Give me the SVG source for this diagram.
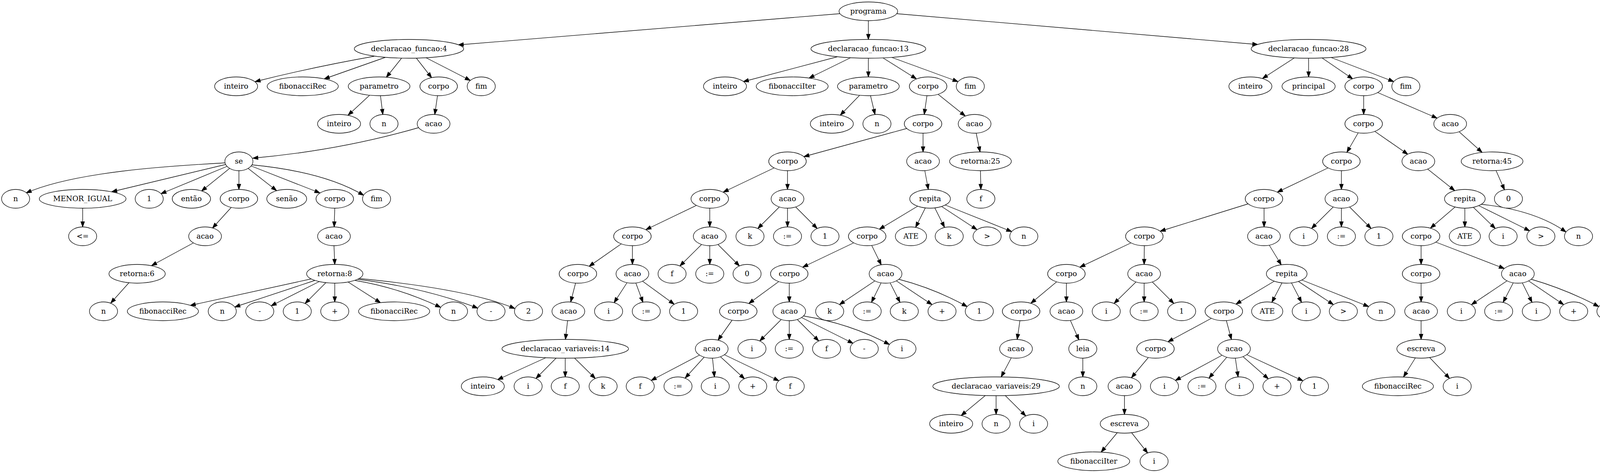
<svg xmlns="http://www.w3.org/2000/svg" width="4167" height="1211" viewBox="0 0 4167 1211">
<defs>
<style>
.nodes ellipse{fill:#fff;stroke:#000;stroke-width:1.33}
.nodes text{font-family:"DejaVu Serif","Liberation Serif",serif;font-size:18.67px;text-anchor:middle;fill:#000}
#edges path{fill:none;stroke:#000;stroke-width:1.33;marker-end:url(#ah)}
</style>
<marker id="ah" markerUnits="userSpaceOnUse" viewBox="-1 -1 16 12" markerWidth="16" markerHeight="12" refX="13.3" refY="4.67" orient="auto">
<path d="M0,0 L13.3,4.67 L0,9.33 z" fill="#000" stroke="#000" stroke-width="1.33"/>
</marker>
</defs>
<rect width="4167" height="1211" fill="#fff"/>
<g id="edges">
<path d="M2150,35 L1173,115"/>
<path d="M2223,53 L2223,101"/>
<path d="M2295,35 L3220,114"/>
<path d="M958,144 Q800,172 653,209"/>
<path d="M986,147 L830,202"/>
<path d="M1028,149 L989,198"/>
<path d="M1066,149 L1105,199"/>
<path d="M1091,148 L1204,206"/>
<path d="M946,244 L891,295"/>
<path d="M974,245 L980,293"/>
<path d="M1120,245 L1113,293"/>
<path d="M1071,327 Q870,385 647,405"/>
<path d="M576,417 C430,425 190,440 67,494"/>
<path d="M578,421 L286,491"/>
<path d="M581,426 L412,496"/>
<path d="M588,431 L516,489"/>
<path d="M611.6,437 L611.6,485"/>
<path d="M635,431 L708,488"/>
<path d="M643,425 L819,494"/>
<path d="M645,422 Q830,440 931,500"/>
<path d="M211.6,533 L211.6,581"/>
<path d="M592,531 L544,584"/>
<path d="M857,533 L855.5,581"/>
<path d="M495,622 L388,680"/>
<path d="M855,629 L857,677"/>
<path d="M330,724 L283.5,776"/>
<path d="M797,714 L487,782"/>
<path d="M806,718 L601,786"/>
<path d="M817,721 L694,783"/>
<path d="M834,724 L781,777"/>
<path d="M857,725 L857,773"/>
<path d="M891,722 L974,775"/>
<path d="M909,718 Q1023,737 1128,787"/>
<path d="M915,715 Q1090,737 1223,789"/>
<path d="M919,713 Q1200,740 1318,790"/>
<path d="M2145,145 L1903,209"/>
<path d="M2177,148 L2071,200"/>
<path d="M2223,149 L2223,197"/>
<path d="M2260,148 L2346,202"/>
<path d="M2283,147 L2452.5,209"/>
<path d="M2200.6,244 L2151,295"/>
<path d="M2228.5,245 L2240,293"/>
<path d="M2373,245 L2366,293"/>
<path d="M2401,241 L2471,297"/>
<path d="M2321,329 L2058,401"/>
<path d="M2363,341 L2363,389"/>
<path d="M2499,341 L2509,389"/>
<path d="M1981.5,430 L1851.5,492"/>
<path d="M2016,437 L2016,485"/>
<path d="M2367.5,437 L2376.5,485"/>
<path d="M2510,437 L2511,485"/>
<path d="M1782.5,526 L1653.5,588"/>
<path d="M1817,533 L1817,581"/>
<path d="M1995,530 L1940,585"/>
<path d="M2016,533 L2016,581"/>
<path d="M2037,530 L2092,585"/>
<path d="M2349,528 L2251,587"/>
<path d="M2369,532 L2344,582"/>
<path d="M2393,532 L2418,582"/>
<path d="M2411,529 L2501,588"/>
<path d="M2420,525 L2590,593"/>
<path d="M1591,624 L1508,682"/>
<path d="M1619,629 L1619,677"/>
<path d="M1796,626 L1740.5,681"/>
<path d="M1817,629 L1817,677"/>
<path d="M1838,626 L1893,681"/>
<path d="M2185,622 L2055,684"/>
<path d="M2231.4,628 L2256,678"/>
<path d="M1473.4,725 L1461,773"/>
<path d="M1605,724 L1572,775"/>
<path d="M1627.7,724.5 L1646,774"/>
<path d="M1645,720 L1726,779"/>
<path d="M1993.5,721 L1917,777"/>
<path d="M2020.5,725 L2020.5,773"/>
<path d="M2240,719 L2149,780"/>
<path d="M2255.7,724 L2231,774"/>
<path d="M2278.6,724 L2304,774"/>
<path d="M2294.5,719 L2386,780"/>
<path d="M2301,715 Q2393,739 2476,785"/>
<path d="M1453,821 L1447.5,869"/>
<path d="M1874,820 L1838,871"/>
<path d="M2000,818 L1945,873"/>
<path d="M2020.5,821 L2020.5,869"/>
<path d="M2041,818 L2096,873"/>
<path d="M2052,813 L2184,879"/>
<path d="M2057,809 Q2175,828 2277,882"/>
<path d="M1397,916 L1274,972"/>
<path d="M1423.5,917 L1372,969"/>
<path d="M1447,917 L1447,965"/>
<path d="M1471,917 L1524,969"/>
<path d="M1791,909 L1667,974"/>
<path d="M1803,914 L1754,968"/>
<path d="M1824,917 L1829,965"/>
<path d="M1844,913 L1906,970"/>
<path d="M1854,908 L1994,975"/>
<path d="M3314,148 L3232,201"/>
<path d="M3350,149 L3350,197"/>
<path d="M3384,148 L3463,202"/>
<path d="M3407,147 L3568,209"/>
<path d="M3491,245 L3491,293"/>
<path d="M3527,237 L3679,302.5"/>
<path d="M3477,340 L3448,390"/>
<path d="M3519,336 L3604,395"/>
<path d="M3735,337 L3794,390"/>
<path d="M3399.5,430 L3270,492"/>
<path d="M3434,437 L3434,485"/>
<path d="M3655,433 L3724,488"/>
<path d="M3830,437 L3851.5,486"/>
<path d="M3195,522 L2970,592"/>
<path d="M3236,533 L3236,581"/>
<path d="M3413,530 L3357.5,585"/>
<path d="M3434,533 L3434,581"/>
<path d="M3455,530 L3510,585"/>
<path d="M3725,530 L3662,584"/>
<path d="M3750,533 L3750,581"/>
<path d="M3772,531 L3828,585"/>
<path d="M3785.5,526.5 L3916,591"/>
<path d="M3792,523 Q3930,538 4009,594"/>
<path d="M2895,622 L2764.5,684"/>
<path d="M2929.5,629 L2929,677"/>
<path d="M3249.5,628 L3280,678"/>
<path d="M3638,629 L3638,677"/>
<path d="M3676,620 L3851,687.5"/>
<path d="M2705,721.5 L2639,776.5"/>
<path d="M2730,725 L2730,773"/>
<path d="M2908,722 L2852,777"/>
<path d="M2929,725 L2929,773"/>
<path d="M2950,722 L3005,777"/>
<path d="M3262,720 L3164,778.6"/>
<path d="M3282,724 L3256,774"/>
<path d="M3306,724 L3332,774"/>
<path d="M3324,720.6 L3413.5,780"/>
<path d="M3333,717 L3504,785"/>
<path d="M3638,725 L3638,773"/>
<path d="M3858,719 L3767,780"/>
<path d="M3874,724 L3848,774"/>
<path d="M3897,724 L3922,774"/>
<path d="M3913,719 L4003,780"/>
<path d="M3920,715 Q4010,741 4093,785"/>
<path d="M2611,821 L2604,869"/>
<path d="M2740,820 L2762,870"/>
<path d="M3101,815 L2990,875"/>
<path d="M3139.5,821 L3152.5,869"/>
<path d="M3638,821 L3638,869"/>
<path d="M2589,916 L2563,965"/>
<path d="M2772,917 L2772,965"/>
<path d="M2940,915 L2896.5,967"/>
<path d="M3128.5,909.5 L3009,974"/>
<path d="M3140.6,914.6 L3095,968"/>
<path d="M3162.5,917 L3169.5,965"/>
<path d="M3182,913 L3247,970"/>
<path d="M3191.5,908 L3335.5,975"/>
<path d="M3623.6,916 L3593,965"/>
<path d="M3660,915.5 L3711,969"/>
<path d="M2522,1013 L2460.5,1064"/>
<path d="M2550,1013 L2550,1061"/>
<path d="M2573.7,1013 L2626,1065"/>
<path d="M2878.6,1013 L2878.6,1061"/>
<path d="M2860,1108 L2819,1157.5"/>
<path d="M2897,1108 L2938,1160"/>
</g>
<g class="nodes">
<g id="n0"><ellipse cx="2223" cy="29" rx="75" ry="24"/><text x="2223" y="35">programa</text></g>
<g id="n1"><ellipse cx="1047" cy="125" rx="140" ry="24"/><text x="1047" y="131">declaracao_funcao:4</text></g>
<g id="n2"><ellipse cx="2223" cy="125" rx="147" ry="24"/><text x="2223" y="131">declaracao_funcao:13</text></g>
<g id="n3"><ellipse cx="3350" cy="125" rx="147" ry="24"/><text x="3350" y="131">declaracao_funcao:28</text></g>

<g id="a1"><ellipse cx="604.5" cy="221" rx="55" ry="24"/><text x="604.5" y="227">inteiro</text></g>
<g id="a2"><ellipse cx="775" cy="221" rx="91" ry="24"/><text x="775" y="227">fibonacciRec</text></g>
<g id="a3"><ellipse cx="970.5" cy="221" rx="79" ry="24"/><text x="970.5" y="227">parametro</text></g>
<g id="a4"><ellipse cx="1123" cy="221" rx="48" ry="24"/><text x="1123" y="227">corpo</text></g>
<g id="a5"><ellipse cx="1232" cy="221" rx="36" ry="24"/><text x="1232" y="227">fim</text></g>
<g id="a6"><ellipse cx="868" cy="317" rx="55" ry="24"/><text x="868" y="323">inteiro</text></g>
<g id="a7"><ellipse cx="983" cy="317" rx="36" ry="24"/><text x="983" y="323">n</text></g>
<g id="a8"><ellipse cx="1110" cy="317" rx="42" ry="24"/><text x="1110" y="323">acao</text></g>
<g id="a9"><ellipse cx="611.6" cy="413" rx="36" ry="24"/><text x="611.6" y="419">se</text></g>
<g id="a10"><ellipse cx="40" cy="509" rx="36" ry="24"/><text x="40" y="515">n</text></g>
<g id="a11"><ellipse cx="211.6" cy="509" rx="111" ry="24"/><text x="211.6" y="515">MENOR_IGUAL</text></g>
<g id="a12"><ellipse cx="382" cy="509" rx="36" ry="24"/><text x="382" y="515">1</text></g>
<g id="a13"><ellipse cx="490" cy="509" rx="49" ry="24"/><text x="490" y="515">então</text></g>
<g id="a14"><ellipse cx="611.6" cy="509" rx="48" ry="24"/><text x="611.6" y="515">corpo</text></g>
<g id="a15"><ellipse cx="734" cy="509" rx="51" ry="24"/><text x="734" y="515">senão</text></g>
<g id="a16"><ellipse cx="857" cy="509" rx="48" ry="24"/><text x="857" y="515">corpo</text></g>
<g id="a17"><ellipse cx="964" cy="509" rx="36" ry="24"/><text x="964" y="515">fim</text></g>
<g id="a18"><ellipse cx="211.6" cy="605" rx="36" ry="24"/><text x="211.6" y="611">&lt;=</text></g>
<g id="a19"><ellipse cx="525" cy="605" rx="42" ry="24"/><text x="525" y="611">acao</text></g>
<g id="a20"><ellipse cx="855" cy="605" rx="42" ry="24"/><text x="855" y="611">acao</text></g>
<g id="a21"><ellipse cx="351" cy="701" rx="72" ry="24"/><text x="351" y="707">retorna:6</text></g>
<g id="a22"><ellipse cx="857" cy="701" rx="72" ry="24"/><text x="857" y="707">retorna:8</text></g>
<g id="a23"><ellipse cx="265" cy="797" rx="36" ry="24"/><text x="265" y="803">n</text></g>
<g id="a24"><ellipse cx="417" cy="797" rx="91" ry="24"/><text x="417" y="803">fibonacciRec</text></g>
<g id="a25"><ellipse cx="569" cy="797" rx="36" ry="24"/><text x="569" y="803">n</text></g>
<g id="a26"><ellipse cx="665" cy="797" rx="36" ry="24"/><text x="665" y="803">-</text></g>
<g id="a27"><ellipse cx="761" cy="797" rx="36" ry="24"/><text x="761" y="803">1</text></g>
<g id="a28"><ellipse cx="857" cy="797" rx="36" ry="24"/><text x="857" y="803">+</text></g>
<g id="a29"><ellipse cx="1009" cy="797" rx="91" ry="24"/><text x="1009" y="803">fibonacciRec</text></g>
<g id="a30"><ellipse cx="1161" cy="797" rx="36" ry="24"/><text x="1161" y="803">n</text></g>
<g id="a31"><ellipse cx="1257" cy="797" rx="36" ry="24"/><text x="1257" y="803">-</text></g>
<g id="a32"><ellipse cx="1353" cy="797" rx="36" ry="24"/><text x="1353" y="803">2</text></g>

<g id="b1"><ellipse cx="1856" cy="221" rx="55" ry="24"/><text x="1856" y="227">inteiro</text></g>
<g id="b2"><ellipse cx="2028" cy="221" rx="92" ry="24"/><text x="2028" y="227">fibonacciIter</text></g>
<g id="b3"><ellipse cx="2223" cy="221" rx="79" ry="24"/><text x="2223" y="227">parametro</text></g>
<g id="b4"><ellipse cx="2376" cy="221" rx="48" ry="24"/><text x="2376" y="227">corpo</text></g>
<g id="b5"><ellipse cx="2484" cy="221" rx="36" ry="24"/><text x="2484" y="227">fim</text></g>
<g id="b6"><ellipse cx="2129.5" cy="317" rx="55" ry="24"/><text x="2129.5" y="323">inteiro</text></g>
<g id="b7"><ellipse cx="2245" cy="317" rx="36" ry="24"/><text x="2245" y="323">n</text></g>
<g id="b8"><ellipse cx="2363" cy="317" rx="48" ry="24"/><text x="2363" y="323">corpo</text></g>
<g id="b9"><ellipse cx="2495" cy="317" rx="42" ry="24"/><text x="2495" y="323">acao</text></g>
<g id="b10"><ellipse cx="2016" cy="413" rx="48" ry="24"/><text x="2016" y="419">corpo</text></g>
<g id="b11"><ellipse cx="2363" cy="413" rx="42" ry="24"/><text x="2363" y="419">acao</text></g>
<g id="b12"><ellipse cx="2510" cy="413" rx="79" ry="24"/><text x="2510" y="419">retorna:25</text></g>
<g id="b13"><ellipse cx="1817" cy="509" rx="48" ry="24"/><text x="1817" y="515">corpo</text></g>
<g id="b14"><ellipse cx="2016" cy="509" rx="42" ry="24"/><text x="2016" y="515">acao</text></g>
<g id="b15"><ellipse cx="2381" cy="509" rx="52" ry="24"/><text x="2381" y="515">repita</text></g>
<g id="b16"><ellipse cx="2511" cy="509" rx="36" ry="24"/><text x="2511" y="515">f</text></g>
<g id="b17"><ellipse cx="1619" cy="605" rx="48" ry="24"/><text x="1619" y="611">corpo</text></g>
<g id="b18"><ellipse cx="1817" cy="605" rx="42" ry="24"/><text x="1817" y="611">acao</text></g>
<g id="b19"><ellipse cx="1920" cy="605" rx="36" ry="24"/><text x="1920" y="611">k</text></g>
<g id="b20"><ellipse cx="2016" cy="605" rx="36" ry="24"/><text x="2016" y="611">:=</text></g>
<g id="b21"><ellipse cx="2112" cy="605" rx="36" ry="24"/><text x="2112" y="611">1</text></g>
<g id="b22"><ellipse cx="2220" cy="605" rx="48" ry="24"/><text x="2220" y="611">corpo</text></g>
<g id="b23"><ellipse cx="2332" cy="605" rx="40" ry="24"/><text x="2332" y="611">ATE</text></g>
<g id="b24"><ellipse cx="2430" cy="605" rx="36" ry="24"/><text x="2430" y="611">k</text></g>
<g id="b25"><ellipse cx="2527" cy="605" rx="36" ry="24"/><text x="2527" y="611">&gt;</text></g>
<g id="b26"><ellipse cx="2621" cy="605" rx="36" ry="24"/><text x="2621" y="611">n</text></g>
<g id="b27"><ellipse cx="1479.5" cy="701" rx="48" ry="24"/><text x="1479.5" y="707">corpo</text></g>
<g id="b28"><ellipse cx="1619" cy="701" rx="42" ry="24"/><text x="1619" y="707">acao</text></g>
<g id="b29"><ellipse cx="1720.5" cy="701" rx="36" ry="24"/><text x="1720.5" y="707">f</text></g>
<g id="b30"><ellipse cx="1817" cy="701" rx="36" ry="24"/><text x="1817" y="707">:=</text></g>
<g id="b31"><ellipse cx="1912.5" cy="701" rx="36" ry="24"/><text x="1912.5" y="707">0</text></g>
<g id="b32"><ellipse cx="2020.5" cy="701" rx="48" ry="24"/><text x="2020.5" y="707">corpo</text></g>
<g id="b33"><ellipse cx="2267" cy="701" rx="42" ry="24"/><text x="2267" y="707">acao</text></g>
<g id="b34"><ellipse cx="1455" cy="797" rx="42" ry="24"/><text x="1455" y="803">acao</text></g>
<g id="b35"><ellipse cx="1558" cy="797" rx="36" ry="24"/><text x="1558" y="803">i</text></g>
<g id="b36"><ellipse cx="1654.5" cy="797" rx="36" ry="24"/><text x="1654.5" y="803">:=</text></g>
<g id="b37"><ellipse cx="1750" cy="797" rx="36" ry="24"/><text x="1750" y="803">1</text></g>
<g id="b38"><ellipse cx="1890" cy="797" rx="48" ry="24"/><text x="1890" y="803">corpo</text></g>
<g id="b39"><ellipse cx="2020.5" cy="797" rx="42" ry="24"/><text x="2020.5" y="803">acao</text></g>
<g id="b40"><ellipse cx="2124" cy="797" rx="36" ry="24"/><text x="2124" y="803">k</text></g>
<g id="b41"><ellipse cx="2220" cy="797" rx="36" ry="24"/><text x="2220" y="803">:=</text></g>
<g id="b42"><ellipse cx="2315" cy="797" rx="36" ry="24"/><text x="2315" y="803">k</text></g>
<g id="b43"><ellipse cx="2411.6" cy="797" rx="36" ry="24"/><text x="2411.6" y="803">+</text></g>
<g id="b44"><ellipse cx="2507" cy="797" rx="36" ry="24"/><text x="2507" y="803">1</text></g>
<g id="b45"><ellipse cx="1447" cy="893" rx="162" ry="24"/><text x="1447" y="899">declaracao_variaveis:14</text></g>
<g id="b46"><ellipse cx="1822" cy="893" rx="42" ry="24"/><text x="1822" y="899">acao</text></g>
<g id="b47"><ellipse cx="1925" cy="893" rx="36" ry="24"/><text x="1925" y="899">i</text></g>
<g id="b48"><ellipse cx="2020.5" cy="893" rx="36" ry="24"/><text x="2020.5" y="899">:=</text></g>
<g id="b49"><ellipse cx="2116" cy="893" rx="36" ry="24"/><text x="2116" y="899">f</text></g>
<g id="b50"><ellipse cx="2212.5" cy="893" rx="36" ry="24"/><text x="2212.5" y="899">-</text></g>
<g id="b51"><ellipse cx="2309" cy="893" rx="36" ry="24"/><text x="2309" y="899">i</text></g>
<g id="b52"><ellipse cx="1236" cy="989" rx="55" ry="24"/><text x="1236" y="995">inteiro</text></g>
<g id="b53"><ellipse cx="1352" cy="989" rx="36" ry="24"/><text x="1352" y="995">i</text></g>
<g id="b54"><ellipse cx="1447" cy="989" rx="36" ry="24"/><text x="1447" y="995">f</text></g>
<g id="b55"><ellipse cx="1544" cy="989" rx="36" ry="24"/><text x="1544" y="995">k</text></g>
<g id="b56"><ellipse cx="1639" cy="989" rx="36" ry="24"/><text x="1639" y="995">f</text></g>
<g id="b57"><ellipse cx="1735.7" cy="989" rx="36" ry="24"/><text x="1735.7" y="995">:=</text></g>
<g id="b58"><ellipse cx="1831" cy="989" rx="36" ry="24"/><text x="1831" y="995">i</text></g>
<g id="b59"><ellipse cx="1927" cy="989" rx="36" ry="24"/><text x="1927" y="995">+</text></g>
<g id="b60"><ellipse cx="2023" cy="989" rx="36" ry="24"/><text x="2023" y="995">f</text></g>

<g id="c1"><ellipse cx="3201" cy="221" rx="55" ry="24"/><text x="3201" y="227">inteiro</text></g>
<g id="c2"><ellipse cx="3350" cy="221" rx="68" ry="24"/><text x="3350" y="227">principal</text></g>
<g id="c3"><ellipse cx="3491" cy="221" rx="48" ry="24"/><text x="3491" y="227">corpo</text></g>
<g id="c4"><ellipse cx="3599" cy="221" rx="36" ry="24"/><text x="3599" y="227">fim</text></g>
<g id="c5"><ellipse cx="3491" cy="317" rx="48" ry="24"/><text x="3491" y="323">corpo</text></g>
<g id="c6"><ellipse cx="3712.5" cy="317" rx="42" ry="24"/><text x="3712.5" y="323">acao</text></g>
<g id="c7"><ellipse cx="3434" cy="413" rx="48" ry="24"/><text x="3434" y="419">corpo</text></g>
<g id="c8"><ellipse cx="3631" cy="413" rx="42" ry="24"/><text x="3631" y="419">acao</text></g>
<g id="c9"><ellipse cx="3819.7" cy="413" rx="79" ry="24"/><text x="3819.7" y="419">retorna:45</text></g>
<g id="c10"><ellipse cx="3235.75" cy="509" rx="48" ry="24"/><text x="3235.75" y="515">corpo</text></g>
<g id="c11"><ellipse cx="3434" cy="509" rx="42" ry="24"/><text x="3434" y="515">acao</text></g>
<g id="c12"><ellipse cx="3750" cy="509" rx="52" ry="24"/><text x="3750" y="515">repita</text></g>
<g id="c13"><ellipse cx="3861.6" cy="509" rx="36" ry="24"/><text x="3861.6" y="515">0</text></g>
<g id="c14"><ellipse cx="2929.5" cy="605" rx="48" ry="24"/><text x="2929.5" y="611">corpo</text></g>
<g id="c15"><ellipse cx="3235.75" cy="605" rx="42" ry="24"/><text x="3235.75" y="611">acao</text></g>
<g id="c16"><ellipse cx="3337.5" cy="605" rx="36" ry="24"/><text x="3337.5" y="611">i</text></g>
<g id="c17"><ellipse cx="3434" cy="605" rx="36" ry="24"/><text x="3434" y="611">:=</text></g>
<g id="c18"><ellipse cx="3530" cy="605" rx="36" ry="24"/><text x="3530" y="611">1</text></g>
<g id="c19"><ellipse cx="3638" cy="605" rx="48" ry="24"/><text x="3638" y="611">corpo</text></g>
<g id="c20"><ellipse cx="3750" cy="605" rx="40" ry="24"/><text x="3750" y="611">ATE</text></g>
<g id="c21"><ellipse cx="3848" cy="605" rx="36" ry="24"/><text x="3848" y="611">i</text></g>
<g id="c22"><ellipse cx="3944.7" cy="605" rx="36" ry="24"/><text x="3944.7" y="611">&gt;</text></g>
<g id="c23"><ellipse cx="4041" cy="605" rx="36" ry="24"/><text x="4041" y="611">n</text></g>
<g id="c24"><ellipse cx="2730" cy="701" rx="48" ry="24"/><text x="2730" y="707">corpo</text></g>
<g id="c25"><ellipse cx="2929" cy="701" rx="42" ry="24"/><text x="2929" y="707">acao</text></g>
<g id="c26"><ellipse cx="3294" cy="701" rx="52" ry="24"/><text x="3294" y="707">repita</text></g>
<g id="c27"><ellipse cx="3638" cy="701" rx="48" ry="24"/><text x="3638" y="707">corpo</text></g>
<g id="c28"><ellipse cx="3885.75" cy="701" rx="42" ry="24"/><text x="3885.75" y="707">acao</text></g>
<g id="c29"><ellipse cx="2614" cy="797" rx="48" ry="24"/><text x="2614" y="803">corpo</text></g>
<g id="c30"><ellipse cx="2730" cy="797" rx="42" ry="24"/><text x="2730" y="803">acao</text></g>
<g id="c31"><ellipse cx="2832" cy="797" rx="36" ry="24"/><text x="2832" y="803">i</text></g>
<g id="c32"><ellipse cx="2929" cy="797" rx="36" ry="24"/><text x="2929" y="803">:=</text></g>
<g id="c33"><ellipse cx="3025" cy="797" rx="36" ry="24"/><text x="3025" y="803">1</text></g>
<g id="c34"><ellipse cx="3133" cy="797" rx="48" ry="24"/><text x="3133" y="803">corpo</text></g>
<g id="c35"><ellipse cx="3244" cy="797" rx="40" ry="24"/><text x="3244" y="803">ATE</text></g>
<g id="c36"><ellipse cx="3344" cy="797" rx="36" ry="24"/><text x="3344" y="803">i</text></g>
<g id="c37"><ellipse cx="3439" cy="797" rx="36" ry="24"/><text x="3439" y="803">&gt;</text></g>
<g id="c38"><ellipse cx="3535" cy="797" rx="36" ry="24"/><text x="3535" y="803">n</text></g>
<g id="c39"><ellipse cx="3638" cy="797" rx="42" ry="24"/><text x="3638" y="803">acao</text></g>
<g id="c40"><ellipse cx="3741" cy="797" rx="36" ry="24"/><text x="3741" y="803">i</text></g>
<g id="c41"><ellipse cx="3836.6" cy="797" rx="36" ry="24"/><text x="3836.6" y="803">:=</text></g>
<g id="c42"><ellipse cx="3933" cy="797" rx="36" ry="24"/><text x="3933" y="803">i</text></g>
<g id="c43"><ellipse cx="4028.6" cy="797" rx="36" ry="24"/><text x="4028.6" y="803">+</text></g>
<g id="c44"><ellipse cx="4124" cy="797" rx="36" ry="24"/><text x="4124" y="803">1</text></g>
<g id="c45"><ellipse cx="2601" cy="893" rx="42" ry="24"/><text x="2601" y="899">acao</text></g>
<g id="c46"><ellipse cx="2772" cy="893" rx="36" ry="24"/><text x="2772" y="899">leia</text></g>
<g id="c47"><ellipse cx="2958" cy="893" rx="48" ry="24"/><text x="2958" y="899">corpo</text></g>
<g id="c48"><ellipse cx="3159" cy="893" rx="42" ry="24"/><text x="3159" y="899">acao</text></g>
<g id="c49"><ellipse cx="3638" cy="893" rx="62" ry="24"/><text x="3638" y="899">escreva</text></g>
<g id="c50"><ellipse cx="2550" cy="989" rx="162" ry="24"/><text x="2550" y="995">declaracao_variaveis:29</text></g>
<g id="c51"><ellipse cx="2772" cy="989" rx="36" ry="24"/><text x="2772" y="995">n</text></g>
<g id="c52"><ellipse cx="2878.6" cy="989" rx="42" ry="24"/><text x="2878.6" y="995">acao</text></g>
<g id="c53"><ellipse cx="2981" cy="989" rx="36" ry="24"/><text x="2981" y="995">i</text></g>
<g id="c54"><ellipse cx="3077" cy="989" rx="36" ry="24"/><text x="3077" y="995">:=</text></g>
<g id="c55"><ellipse cx="3173" cy="989" rx="36" ry="24"/><text x="3173" y="995">i</text></g>
<g id="c56"><ellipse cx="3269" cy="989" rx="36" ry="24"/><text x="3269" y="995">+</text></g>
<g id="c57"><ellipse cx="3365" cy="989" rx="36" ry="24"/><text x="3365" y="995">1</text></g>
<g id="c58"><ellipse cx="3578.6" cy="989" rx="91" ry="24"/><text x="3578.6" y="995">fibonacciRec</text></g>
<g id="c59"><ellipse cx="3730.4" cy="989" rx="36" ry="24"/><text x="3730.4" y="995">i</text></g>
<g id="c60"><ellipse cx="2435" cy="1085" rx="55" ry="24"/><text x="2435" y="1091">inteiro</text></g>
<g id="c61"><ellipse cx="2550" cy="1085" rx="36" ry="24"/><text x="2550" y="1091">n</text></g>
<g id="c62"><ellipse cx="2646" cy="1085" rx="36" ry="24"/><text x="2646" y="1091">i</text></g>
<g id="c63"><ellipse cx="2878.6" cy="1085" rx="62" ry="24"/><text x="2878.6" y="1091">escreva</text></g>
<g id="c64"><ellipse cx="2800" cy="1181" rx="92" ry="24"/><text x="2800" y="1187">fibonacciIter</text></g>
<g id="c65"><ellipse cx="2954.5" cy="1181" rx="36" ry="24"/><text x="2954.5" y="1187">i</text></g>
</g>
</svg>
